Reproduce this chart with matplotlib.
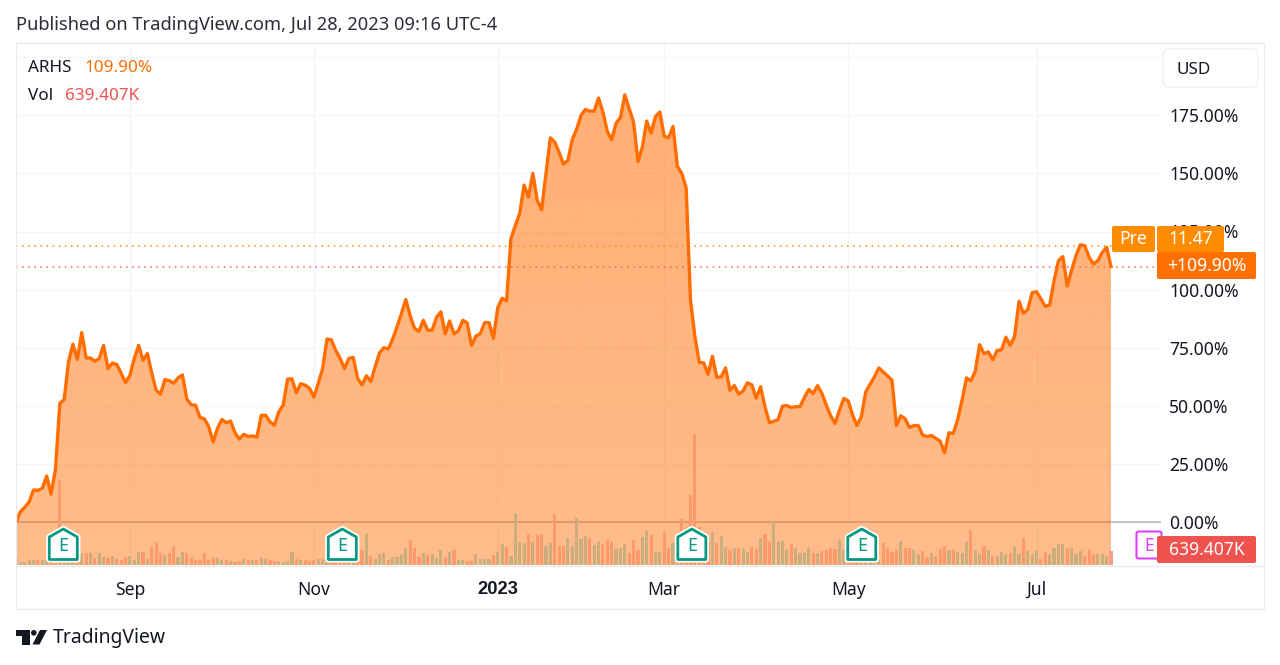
import numpy as np
import matplotlib
matplotlib.use("Agg")
import matplotlib.pyplot as plt
from matplotlib.patches import Polygon, Rectangle, FancyBboxPatch, Circle

plt.rcParams['font.family'] = ['Noto Sans', 'DejaVu Sans']

pct_change = [
 0,4.4,6.3,8.7,13.8,13.6,14.5,19.8,12,22.4,51,52.7,69,76.5,70,81.5,70.6,70.6,69.2,70.4,
 76,66,68.4,67.8,64,60,63,70.4,76,69.6,72.5,64,56.7,55,61.3,60.8,59.7,62,63.3,52.9,
 50.4,50.3,45,44.4,41,34.4,40.3,44.1,42.7,43.4,38.4,35.7,37.7,36.8,37,36.5,45.9,45.9,43.1,41.6,
 47.4,50.3,61.5,61.6,55.6,59.5,58.9,57.6,53.7,59.6,66,78.7,78.4,73.8,70.4,66,70.4,70.8,61.8,59,
 62.9,60.5,66.8,72.8,75,74.5,78.7,84,89.7,95.7,88.7,83.3,82,86.8,82.5,
 82.5,88,90.4,81,86.5,81,82.2,86.8,85.7,76,80,81,85.8,85.8,79,92.3,96.3,95.1,122,127.6,
 132.7,145,139.8,150,138.4,134.4,150,165.3,163.5,159,154,155.6,164.6,169,175,177.5,176.8,176.8,182.4,176.4,
 168,164.5,171.6,174,183.8,177.8,172,155,161.3,172.5,167.3,174.5,176.4,166,165.3,170.2,153,150,143.8,95.4,
 79.7,68.6,68.5,63.6,71.3,62.2,62.5,66.3,56.7,58.7,55,56.4,59.9,59,53.3,58.2,49.6,42.8,43.3,44.1,
 49.9,50.1,49.3,49.6,49.6,53.6,57,55.3,58.7,55.3,50.3,45.7,42.4,48.1,53.2,52.1,46,41.5,45.3,56,
 59.3,62.5,66.3,64.6,62.8,61,41.5,45.7,44.4,40.7,41.5,41.5,37.4,36.8,37.2,36,34.8,29.8,38.4,38.1,
 44.1,52.4,62,60.8,64.8,76.3,72.4,73.2,69.8,73.8,74.1,79.5,76,80,95,89.8,91.4,98.7,99.1,96,
 92.8,93.3,103.9,112.4,114.2,101.6,108.2,114.6,119.3,118.9,113.9,111,112.4,116,118.2,109.9]

volume_k = [
 304,152,122,213,213,213,243,274,152,152,3876,152,152,152,152,
 547,547,547,334,547,365,334,395,274,243,365,410,213,578,578,274,836,1034,547,456,547,882,380,578,547,
 334,243,213,532,213,304,304,243,213,182,122,198,274,213,213,243,304,274,228,198,182,122,198,578,274,
 213,243,167,228,274,258,213,182,228,1794,243,213,213,213,669,1398,410,274,486,562,228,365,365,486,760,
 1155,760,380,547,456,486,334,699,365,608,699,228,228,198,198,502,289,274,289,456,608,973,806,426,2356,
 1034,988,1429,1034,1383,1429,851,1003,2310,851,882,1216,851,2128,1186,1338,1246,912,1034,973,1125,1034,730,790,942,
 532,1125,699,1277,1550,1368,608,608,1444,790,1003,684,2098,1748,3192,5974,1748,1520,1064,1490,1003,1307,821,669,790,
 790,790,608,821,730,1216,1414,1064,1976,1034,1094,699,973,760,532,547,790,547,547,638,669,790,730,1155,699,
 380,213,213,213,213,213,213,213,1003,790,578,669,1094,760,790,669,486,638,365,547,426,730,851,699,669,
 578,547,1034,1596,699,486,851,699,395,426,578,517,547,821,502,1216,638,486,638,274,578,486,760,942,973,
 760,790,517,638,395,699,517,517,486,410,639]

assert len(pct_change) == 251 and len(volume_k) == 251

month_ticks = [26, 68, 110, 148, 190, 233]
month_labels = ['Sep', 'Nov', '2023', 'Mar', 'May', 'Jul']
pct_ticks = [0, 25, 50, 75, 100, 125, 150, 175]
grid_levels = pct_ticks + [200]
earnings_sessions = [10.8, 74.5, 154.3, 193.1]
down_volume_sessions = [10, 74, 154, 155]
last_pct = 109.90
pre_pct = 118.8

W, H = 1280, 665
SP = 4.38
PL, PR, PT, PB = 16, 1161, 43, 565
fig = plt.figure(figsize=(12.8, 6.65), dpi=100, facecolor='white')
rect = [PL / W, 1 - PB / H, (PR - PL) / W, (PB - PT) / H]
ax = fig.add_axes(rect, zorder=1)
ax2 = fig.add_axes(rect, zorder=2, sharex=ax)
ax2.patch.set_visible(False)

sessions = np.arange(len(pct_change))
pct = np.array(pct_change, float)
vol = np.array(volume_k, float)

ax.set_xlim(0, (PR - PL) / SP)
per_px = 25 / 58.1
ax.set_ylim(-(PB - 522) * per_px, (522 - PT) * per_px)
ax2.set_ylim(0, (PB - PT) * 45.7)

for lvl in grid_levels:
    ax.axhline(lvl, color='#f3f5fa', lw=1.0, zorder=1)
for t in month_ticks:
    ax.axvline(t, color='#f3f5fa', lw=1.0, zorder=1)
ax.axhline(0, color='#b2b5be', lw=1.1, zorder=1.5)

grad = np.zeros((256, 1, 4))
grad[..., 0] = 1.0
grad[..., 1] = 109 / 255
grad[..., 2] = 0
grad[:, 0, 3] = np.linspace(0.55, 0.46, 256)
ymin, ymax = ax.get_ylim()
im = ax.imshow(grad, extent=[0, sessions[-1], ymin, pct.max()], aspect='auto', zorder=2,
               origin='upper', interpolation='bilinear')
ax.set_xlim(0, (PR - PL) / SP)
ax.set_ylim(ymin, ymax)
poly = Polygon(np.r_[[[0, ymin]], np.c_[sessions, pct], [[sessions[-1], ymin]]], closed=True,
               transform=ax.transData, fc='none', ec='none')
ax.add_patch(poly)
im.set_clip_path(poly)

ax.axhline(pre_pct, color='#ff8c00', lw=1.1, ls=(0, (1, 3)), zorder=3)
ax.axhline(last_pct, color='#f7644a', lw=1.1, ls=(0, (1, 3)), zorder=3)

ax.plot(sessions, pct, color='#ff6d00', lw=2.4, zorder=4, solid_joinstyle='round')

up = np.r_[True, np.diff(pct) >= 0]
up[down_volume_sessions] = False
colors = list(np.where(up, '#cbae7e', '#fd9a6c'))
colors[-1] = '#fa9a8a'
ax2.bar(sessions, vol, width=0.72, color=colors, lw=0, zorder=3)
ax2.set_yticks([])
ax2.tick_params(labelbottom=False, length=0)
for s in ax2.spines.values():
    s.set_visible(False)

ax.yaxis.tick_right()
ax.set_yticks(pct_ticks)
ax.set_yticklabels([f'{v:.2f}%' for v in pct_ticks], fontsize=12.6, color='#131722')
ax.set_xticks(month_ticks)
ax.set_xticklabels(month_labels, fontsize=12.6, color='#131722')
ax.tick_params(axis='y', length=0, pad=6)
ax.tick_params(axis='x', length=0, pad=11.5)
for lab in ax.get_xticklabels():
    if lab.get_text() == '2023':
        lab.set_fontfamily('Liberation Sans')
        lab.set_fontweight('bold')
        lab.set_fontsize(13.2)
for s in ax.spines.values():
    s.set_visible(False)

ov = fig.add_axes([0, 0, 1, 1], zorder=5)
ov.set_xlim(0, W)
ov.set_ylim(H, 0)
ov.axis('off')
ov.patch.set_visible(False)
BORDER = '#e8eaf0'
ov.add_patch(Rectangle((15.5, 42.5), 1248.5, 566.5, fc='none', ec=BORDER, lw=0.9))
ov.plot([16, 1264], [565.5, 565.5], color=BORDER, lw=0.9)

ov.text(15.5, 25, 'Published on TradingView.com, Jul 28, 2023 09:16 UTC-4', fontsize=13.2, color='#2a2e39', va='center')
ov.text(28, 68.5, 'ARHS', fontsize=12.3, color='#131722', va='center')
ov.text(84, 68.5, '109.90%', fontsize=12.3, color='#ff6d00', va='center')
ov.text(28, 95.5, 'Vol', fontsize=12.3, color='#131722', va='center')
ov.text(65, 95.5, '639.407K', fontsize=12.3, color='#ef5350', va='center')

ov.add_patch(FancyBboxPatch((1166, 52), 89, 32, boxstyle='round,pad=3,rounding_size=6', fc='white', ec='#eef0f4', lw=1))
ov.text(1177, 70, 'USD', fontsize=12.3, color='#131722', va='center')


def box(x0, y0, x1, y1, color, text, fs=12.6):
    ov.add_patch(FancyBboxPatch((x0 + 1, y0 + 1), x1 - x0 - 2, y1 - y0 - 2,
                                boxstyle='round,pad=1,rounding_size=2', fc=color, ec='none', zorder=2))
    ov.text((x0 + x1) / 2, (y0 + y1) / 2 + 0.5, text, fontsize=fs, color='white', ha='center', va='center', zorder=2.1)


box(1112, 226, 1155, 252, '#ff8c00', 'Pre')
box(1157, 226, 1224, 252, '#ff8c00', '11.47')
box(1157, 252, 1256, 279, '#ff7000', '+109.90%')

ov.add_patch(FancyBboxPatch((1137, 532), 24, 26, boxstyle='round,pad=0.5,rounding_size=2', fc='white', ec='#e040fb', lw=1.5, zorder=1))
ov.text(1149, 546, 'E', fontsize=12.5, color='#e040fb', ha='center', va='center', zorder=1.5)
box(1157, 536, 1256, 563, '#ef5350', '639.407K')

for s in earnings_sessions:
    cx = PL + s * SP
    pts = [(cx - 14, 537), (cx, 529), (cx + 14, 537), (cx + 14, 559.5), (cx - 14, 559.5)]
    ov.add_patch(Polygon(pts, closed=True, fc='white', ec='white', lw=4.5, joinstyle='round', zorder=3))
    ov.add_patch(Polygon(pts, closed=True, fc='white', ec='#089981', lw=2.0, joinstyle='round', zorder=3.1))
    ov.text(cx, 546, 'E', fontsize=13, color='#089981', ha='center', va='center', zorder=3.2)

LOGO = '#131722'
ov.add_patch(Polygon([(16, 630), (30, 630), (30, 644.5), (22, 644.5), (22, 636), (16, 636)], closed=True, fc=LOGO, ec='none'))
ov.add_patch(Circle((33.8, 632.8), 2.8, fc=LOGO, ec='none'))
ov.add_patch(Polygon([(40, 630), (47, 630), (39.5, 644.5), (32.5, 644.5)], closed=True, fc=LOGO, ec='none'))
ov.text(53, 637.5, 'TradingView', fontsize=13.9, color='#131722', va='center')

fig.savefig('out.png', dpi=100, facecolor='white')
